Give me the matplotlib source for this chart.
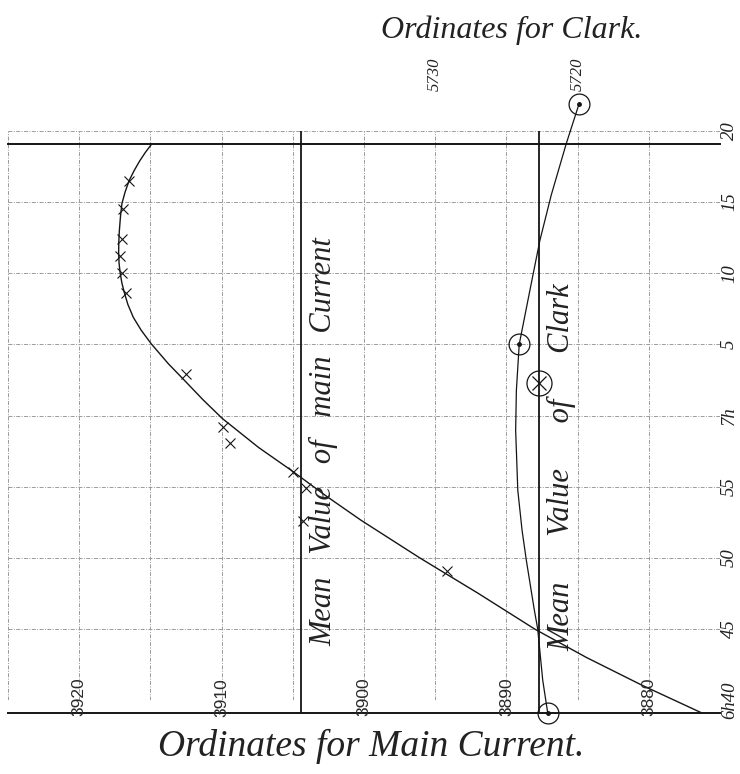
import numpy as np
import matplotlib
matplotlib.use("Agg")
import matplotlib.pyplot as plt
import matplotlib.transforms as mtransforms

# ------------------------------------------------------------------
# data
# time axis: minutes after 6h40 ; main current in its own ordinates
# ------------------------------------------------------------------
main_obs_t   = [36.5, 34.5, 32.4, 31.2, 30.0, 28.6, 22.9, 19.2, 18.1, 16.0, 14.9, 12.6, 9.1]
main_obs_val = [3916.5, 3916.9, 3917.0, 3917.1, 3917.0, 3916.7, 3912.5, 3909.9, 3909.4,
                3905.0, 3904.1, 3904.3, 3894.2]

main_curve_t   = [39.1, 38.5, 37.9, 37.2, 36.5, 35.7, 34.9, 34.0, 33.0, 32.2, 31.4, 30.7,
                   30.0, 29.3, 28.6, 27.8, 26.9, 26.0, 25.05, 23.65, 22.46, 21.1, 19.79,
                   17.75, 16.14, 14.3, 12.63, 10.0, 7.51, 4.98, 3.0, 1.05, -0.9]
main_curve_val = [3914.9, 3915.35, 3915.75, 3916.15, 3916.5, 3916.78, 3917.0, 3917.1,
                  3917.18, 3917.22, 3917.23, 3917.2, 3917.12, 3917.0, 3916.82, 3916.58,
                  3916.2, 3915.65, 3914.95, 3913.75, 3912.6, 3911.3, 3909.95, 3907.4,
                  3905.1, 3902.6, 3900.2, 3896.1, 3892.0, 3888.0, 3884.4, 3880.5, 3876.3]

clark_obs_t   = [41.9, 25.0, -0.9]
clark_obs_val = [5720.1, 5724.3, 5722.3]

clark_curve_t   = [41.9, 39.1, 35.5, 32.3, 28.8, 25.0, 21.75, 18.95, 14.74, 11.93, 9.82,
                   6.39, 4.98, 1.4, -0.9]
clark_curve_val = [5720.1, 5721.0, 5722.05, 5722.85, 5723.55, 5724.3, 5724.5, 5724.55,
                   5724.4, 5724.1, 5723.8, 5723.25, 5723.0, 5722.65, 5722.3]

mean_main  = 3904.4
mean_clark = 5722.9
mean_clark_t = 22.3

CLARK_OFFSET = 1835.2   # clark ordinate = main ordinate + offset on this sheet

band_t = [-0.9, 39.1]   # the two heavy horizontal rules

main_ticks  = [3920, 3910, 3900, 3890, 3880]
clark_ticks = [5730, 5720]
time_ticks  = [40, 35, 30, 25, 20, 15, 10, 5, 0]
time_labels = ["20", "15", "10", "5", "7h", "55", "50", "45", "6h40"]

# ------------------------------------------------------------------
# figure
# ------------------------------------------------------------------
W, H = 740, 774
fig = plt.figure(figsize=(W/100, H/100), dpi=100)
fig.patch.set_facecolor("white")
ax = fig.add_axes([8/W, 1 - 700/H, 712/W, 569/H])
ax.set_xlim(3925, 3875)
ax.set_ylim(0, 40)
for s in ax.spines.values():
    s.set_visible(False)

ax.set_xticks(np.arange(3875, 3926, 5))
ax.set_yticks(np.arange(0, 41, 5))
ax.tick_params(length=0, labelbottom=False, labelleft=False)
ax.grid(True, color="#9a9a9a", lw=0.7, ls=(0, (4, 1.5, 1, 1.5)))

ink = "#151515"
font = dict(family="Liberation Serif", style="italic", color="#222222")
digits = dict(family="Liberation Sans", color="#2a2a2a")

# heavy rules
for t in band_t:
    ax.axhline(t, color=ink, lw=1.4, clip_on=False)

# mean lines
ax.vlines([mean_main, mean_clark - CLARK_OFFSET], band_t[0], 40, color=ink, lw=1.3,
          clip_on=False)

# main current
ax.plot(main_curve_val, main_curve_t, color=ink, lw=1.0, clip_on=False)
ax.plot(main_obs_val, main_obs_t, "x", color=ink, ms=7, mew=0.8, clip_on=False)

# clark
cv = np.array(clark_curve_val) - CLARK_OFFSET
ax.plot(cv, clark_curve_t, color=ink, lw=0.9, clip_on=False)
co = np.array(clark_obs_val) - CLARK_OFFSET
ax.plot(co, clark_obs_t, "o", mfc="none", mec=ink, ms=15, mew=0.9, clip_on=False)
ax.plot(co, clark_obs_t, "o", color=ink, ms=2.5, clip_on=False)
ax.plot([mean_clark - CLARK_OFFSET], [mean_clark_t], "o", mfc="none", mec=ink, ms=18,
        mew=0.9, clip_on=False)
ax.plot([mean_clark - CLARK_OFFSET], [mean_clark_t], "x", color=ink, ms=10, mew=0.9,
        clip_on=False)

# tick labels
for v in main_ticks:
    ax.text(v, 0.2, str(v), rotation=90, ha="center", va="center", fontsize=12.5,
            clip_on=False, **digits)
for v in clark_ticks:
    ax.text(v - CLARK_OFFSET + 0.2, 44.0, str(v), rotation=90, ha="center", va="center",
            fontsize=12, clip_on=False, **font)
trans = mtransforms.blended_transform_factory(ax.transAxes, ax.transData)
for t, lab in zip(time_ticks, time_labels):
    ax.text(1.0135, t, lab, rotation=90, ha="center", va="center", fontsize=13.5,
            transform=trans, clip_on=False, **font)

# inscriptions
ax.text(3902.8, 18.2, "Mean   Value   of   main   Current", rotation=90, ha="center",
        va="center", fontsize=22, **font)
ax.text(3886.1, 16.4, "Mean      Value      of      Clark", rotation=90, ha="center",
        va="center", fontsize=22, **font)

fig.text(512/W, 1 - 30/H, "Ordinates for Clark.", ha="center", va="center",
         fontsize=23, **font)
fig.text(371/W, 1 - 746/H, "Ordinates for Main Current.", ha="center", va="center",
         fontsize=27, **font)

fig.savefig("out.png", dpi=100)
